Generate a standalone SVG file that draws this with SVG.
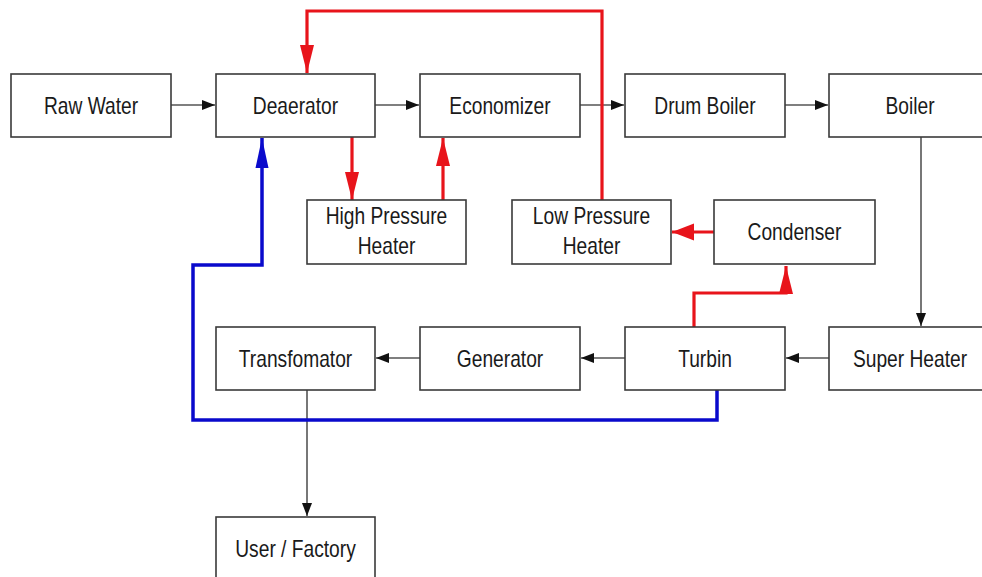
<svg xmlns="http://www.w3.org/2000/svg" width="982" height="577" viewBox="0 0 982 577">
<style>
.box{fill:#fff;stroke:#3a3a3a;stroke-width:1.6}
.lbl{font-family:"Liberation Sans",Arial,sans-serif;font-size:24px;fill:#1a1a1a;text-anchor:middle}
.blk{fill:none;stroke:#555;stroke-width:1.6}
.red{fill:none;stroke:#e8141b;stroke-width:3.2}
.blue{fill:none;stroke:#0a0acc;stroke-width:3.5}
</style>
<defs>
<marker id="ab" markerUnits="userSpaceOnUse" markerWidth="14" markerHeight="12" refX="13" refY="6" orient="auto"><path d="M0,1 L13,6 L0,11 Z" fill="#111"/></marker>
<marker id="ar" markerUnits="userSpaceOnUse" markerWidth="30" markerHeight="16" refX="28" refY="8" orient="auto"><path d="M0,1 L28,8 L0,15 Z" fill="#e8141b"/></marker>
<marker id="ar2" markerUnits="userSpaceOnUse" markerWidth="24" markerHeight="20" refX="22" refY="10" orient="auto"><path d="M0,1.5 L22,10 L0,18.5 Z" fill="#e8141b"/></marker>
<marker id="au" markerUnits="userSpaceOnUse" markerWidth="32" markerHeight="16" refX="30" refY="8" orient="auto"><path d="M0,1.5 L30,8 L0,14.5 Z" fill="#0a0acc"/></marker>
</defs>
<g id="connectors">
<path class="blk" d="M171,105 H215" marker-end="url(#ab)"/>
<path class="blk" d="M375,105 H419" marker-end="url(#ab)"/>
<path class="blk" d="M580,105 H624" marker-end="url(#ab)"/>
<path class="blk" d="M785,105 H828" marker-end="url(#ab)"/>
<path class="blk" d="M921,137 V326" marker-end="url(#ab)"/>
<path class="blk" d="M829,358 H786" marker-end="url(#ab)"/>
<path class="blk" d="M625,358 H581" marker-end="url(#ab)"/>
<path class="blk" d="M420,358 H376" marker-end="url(#ab)"/>
<path class="blk" d="M307,390 V516" marker-end="url(#ab)"/>
<path class="red" d="M602,200 V11 H307 V73" marker-end="url(#ar)"/>
<path class="red" d="M352,137 V200" marker-end="url(#ar)"/>
<path class="red" d="M443,200 V138" marker-end="url(#ar)"/>
<path class="red" d="M714,232 H672" marker-end="url(#ar2)"/>
<path class="red" d="M694,327 V293 H786 V266" marker-end="url(#ar)"/>
<path class="blue" d="M717,390 V420 H193 V265 H262 V138" marker-end="url(#au)"/>
</g>
<g id="raw-water"><rect class="box" x="11" y="74" width="160" height="63"/><text class="lbl" transform="translate(91,114) scale(0.8,1)">Raw Water</text></g>
<g id="deaerator"><rect class="box" x="216" y="74" width="159" height="63"/><text class="lbl" transform="translate(295.5,114) scale(0.8,1)">Deaerator</text></g>
<g id="economizer"><rect class="box" x="420" y="74" width="160" height="63"/><text class="lbl" transform="translate(500,114) scale(0.8,1)">Economizer</text></g>
<g id="drum-boiler"><rect class="box" x="625" y="74" width="160" height="63"/><text class="lbl" transform="translate(705,114) scale(0.8,1)">Drum Boiler</text></g>
<g id="boiler"><rect class="box" x="829" y="74" width="162" height="63"/><text class="lbl" transform="translate(910,114) scale(0.8,1)">Boiler</text></g>
<g id="hp-heater"><rect class="box" x="307" y="200" width="159" height="64"/><text class="lbl" transform="translate(386.5,224) scale(0.8,1)">High Pressure</text><text class="lbl" transform="translate(386.5,254) scale(0.8,1)">Heater</text></g>
<g id="lp-heater"><rect class="box" x="512" y="200" width="159" height="64"/><text class="lbl" transform="translate(591.5,224) scale(0.8,1)">Low Pressure</text><text class="lbl" transform="translate(591.5,254) scale(0.8,1)">Heater</text></g>
<g id="condenser"><rect class="box" x="714" y="200" width="161" height="64"/><text class="lbl" transform="translate(794.5,240) scale(0.8,1)">Condenser</text></g>
<g id="transfomator"><rect class="box" x="216" y="327" width="159" height="63"/><text class="lbl" transform="translate(295.5,367) scale(0.8,1)">Transfomator</text></g>
<g id="generator"><rect class="box" x="420" y="327" width="160" height="63"/><text class="lbl" transform="translate(500,367) scale(0.8,1)">Generator</text></g>
<g id="turbin"><rect class="box" x="625" y="327" width="160" height="63"/><text class="lbl" transform="translate(705,367) scale(0.8,1)">Turbin</text></g>
<g id="super-heater"><rect class="box" x="829" y="327" width="162" height="63"/><text class="lbl" transform="translate(910,367) scale(0.8,1)">Super Heater</text></g>
<g id="user-factory"><rect class="box" x="216" y="517" width="159" height="70"/><text class="lbl" transform="translate(295.5,557) scale(0.8,1)">User / Factory</text></g>
</svg>
